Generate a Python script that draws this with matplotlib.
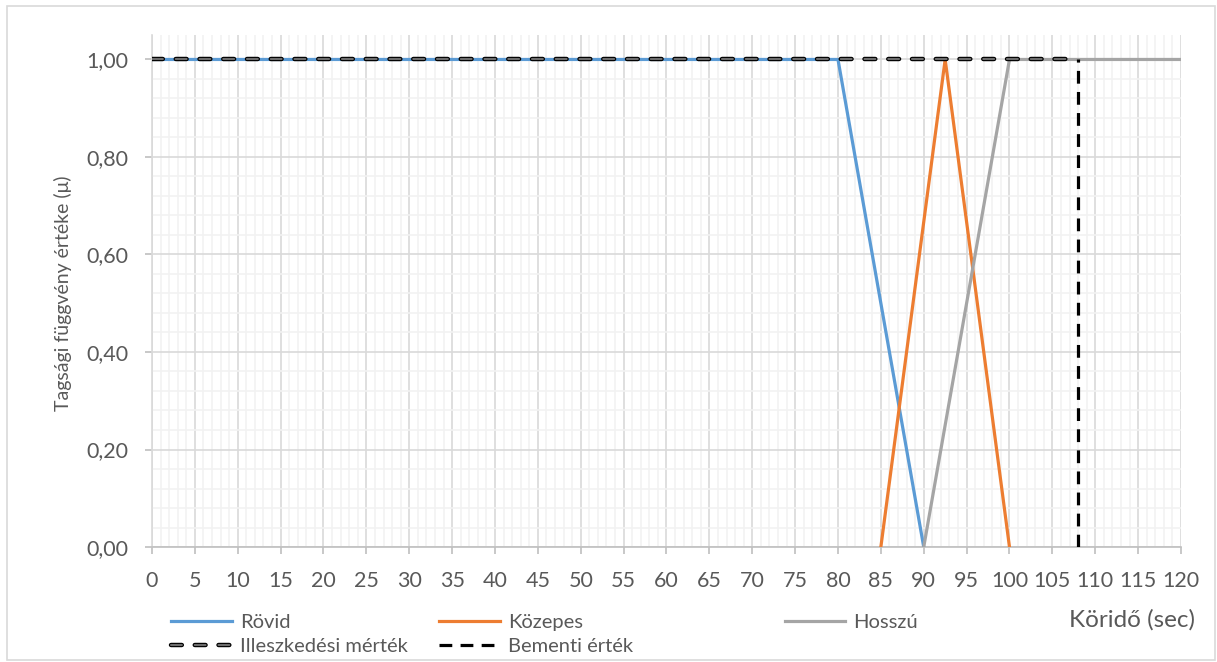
import numpy as np
import matplotlib
matplotlib.use("Agg")
import matplotlib.pyplot as plt
import matplotlib.patheffects as pe
from matplotlib.patches import Rectangle
from matplotlib.ticker import MultipleLocator, FixedLocator, FuncFormatter

# tagsági függvények töréspontjai (x: köridő, y: tagsági érték)
rovid_x = [0, 80, 90]
rovid_y = [1, 1, 0]
kozepes_x = [85, 92.5, 100]
kozepes_y = [0, 1, 0]
hosszu_x = [90, 100, 120]
hosszu_y = [0, 1, 1]
illesz_x = [0, 108]
illesz_y = [1, 1]
bemenet_x = [108, 108]
bemenet_y = [0, 1]

szoveg = '#595959'
plt.rcParams['font.family'] = ['Lato', 'DejaVu Sans']

fig = plt.figure(figsize=(12.17, 6.62), dpi=100)
ax = fig.add_axes([0.1249, 0.1737, 0.8455, 0.7733])

l1, = ax.plot(rovid_x, rovid_y, color='#5B9BD5', lw=2.3, label='Rövid', zorder=3)
l2, = ax.plot(kozepes_x, kozepes_y, color='#ED7D31', lw=2.3, label='Közepes', zorder=3)
l3, = ax.plot(hosszu_x, hosszu_y, color='#A5A5A5', lw=2.3, label='Hosszú', zorder=3)
l4, = ax.plot(illesz_x, illesz_y, color='#808080', lw=1.5, alpha=0.85,
              dashes=(5.2, 6.2), dash_capstyle='round', label='Illeszkedési mérték', zorder=4,
              path_effects=[pe.Stroke(linewidth=3.2, foreground='black', alpha=1), pe.Normal()])
l5, = ax.plot(bemenet_x, bemenet_y, color='black', lw=2.3,
              dashes=(4.0, 2.6), label='Bementi érték', zorder=4)

ax.set_xlim(0, 120)
ax.set_ylim(0, 1.05)
ax.xaxis.set_major_locator(MultipleLocator(5))
ax.xaxis.set_minor_locator(MultipleLocator(1))
ax.yaxis.set_major_locator(FixedLocator(np.arange(0, 1.001, 0.2)))
ax.yaxis.set_minor_locator(FixedLocator(np.arange(0, 1.001, 0.04)))
ax.yaxis.set_major_formatter(FuncFormatter(lambda v, p: f'{v:.2f}'.replace('.', ',')))

ax.grid(which='major', color='#d9d9d9', lw=1.2)
ax.grid(which='minor', color='#f2f2f2', lw=1.2)
ax.set_axisbelow(True)

for s in ['top', 'right']:
    ax.spines[s].set_visible(False)
ax.spines['left'].set_color('#d9d9d9')
ax.spines['left'].set_linewidth(1.2)
ax.spines['bottom'].set_color('#bfbfbf')
ax.spines['bottom'].set_linewidth(1.2)

ax.tick_params(axis='both', which='major', colors='#bfbfbf', labelcolor=szoveg,
               labelsize=15.5, length=5, width=1.2)
ax.tick_params(axis='y', which='major', pad=12)
ax.tick_params(axis='x', which='major', pad=12)
ax.tick_params(which='minor', length=0)

ax.set_ylabel('Tagsági függvény értéke (μ)', fontsize=14, color=szoveg)
ax.yaxis.set_label_coords(-0.0777, 0.496)
fig.text(0.982, 0.063, 'Köridő (sec)', ha='right', va='center', fontsize=17.5, color=szoveg)

# jelmagyarázat három oszlopban
kw = dict(frameon=False, fontsize=14.5, labelcolor=szoveg, handlelength=3.0,
          handletextpad=0.4, labelspacing=0.36, loc='upper left')
leg1 = fig.legend([l1, l4], ['Rövid', 'Illeszkedési mérték'],
                  bbox_to_anchor=(0.126, 0.100), **kw)
leg2 = fig.legend([l2, l5], ['Közepes', 'Bementi érték'],
                  bbox_to_anchor=(0.346, 0.100), **kw)
leg3 = fig.legend([l3], ['Hosszú'],
                  bbox_to_anchor=(0.630, 0.100), **kw)

fig.add_artist(Rectangle((0.006, 0.003), 0.992, 0.988, transform=fig.transFigure,
                         fill=False, edgecolor='#d9d9d9', lw=1.2))

fig.savefig('out.png', dpi=100)
